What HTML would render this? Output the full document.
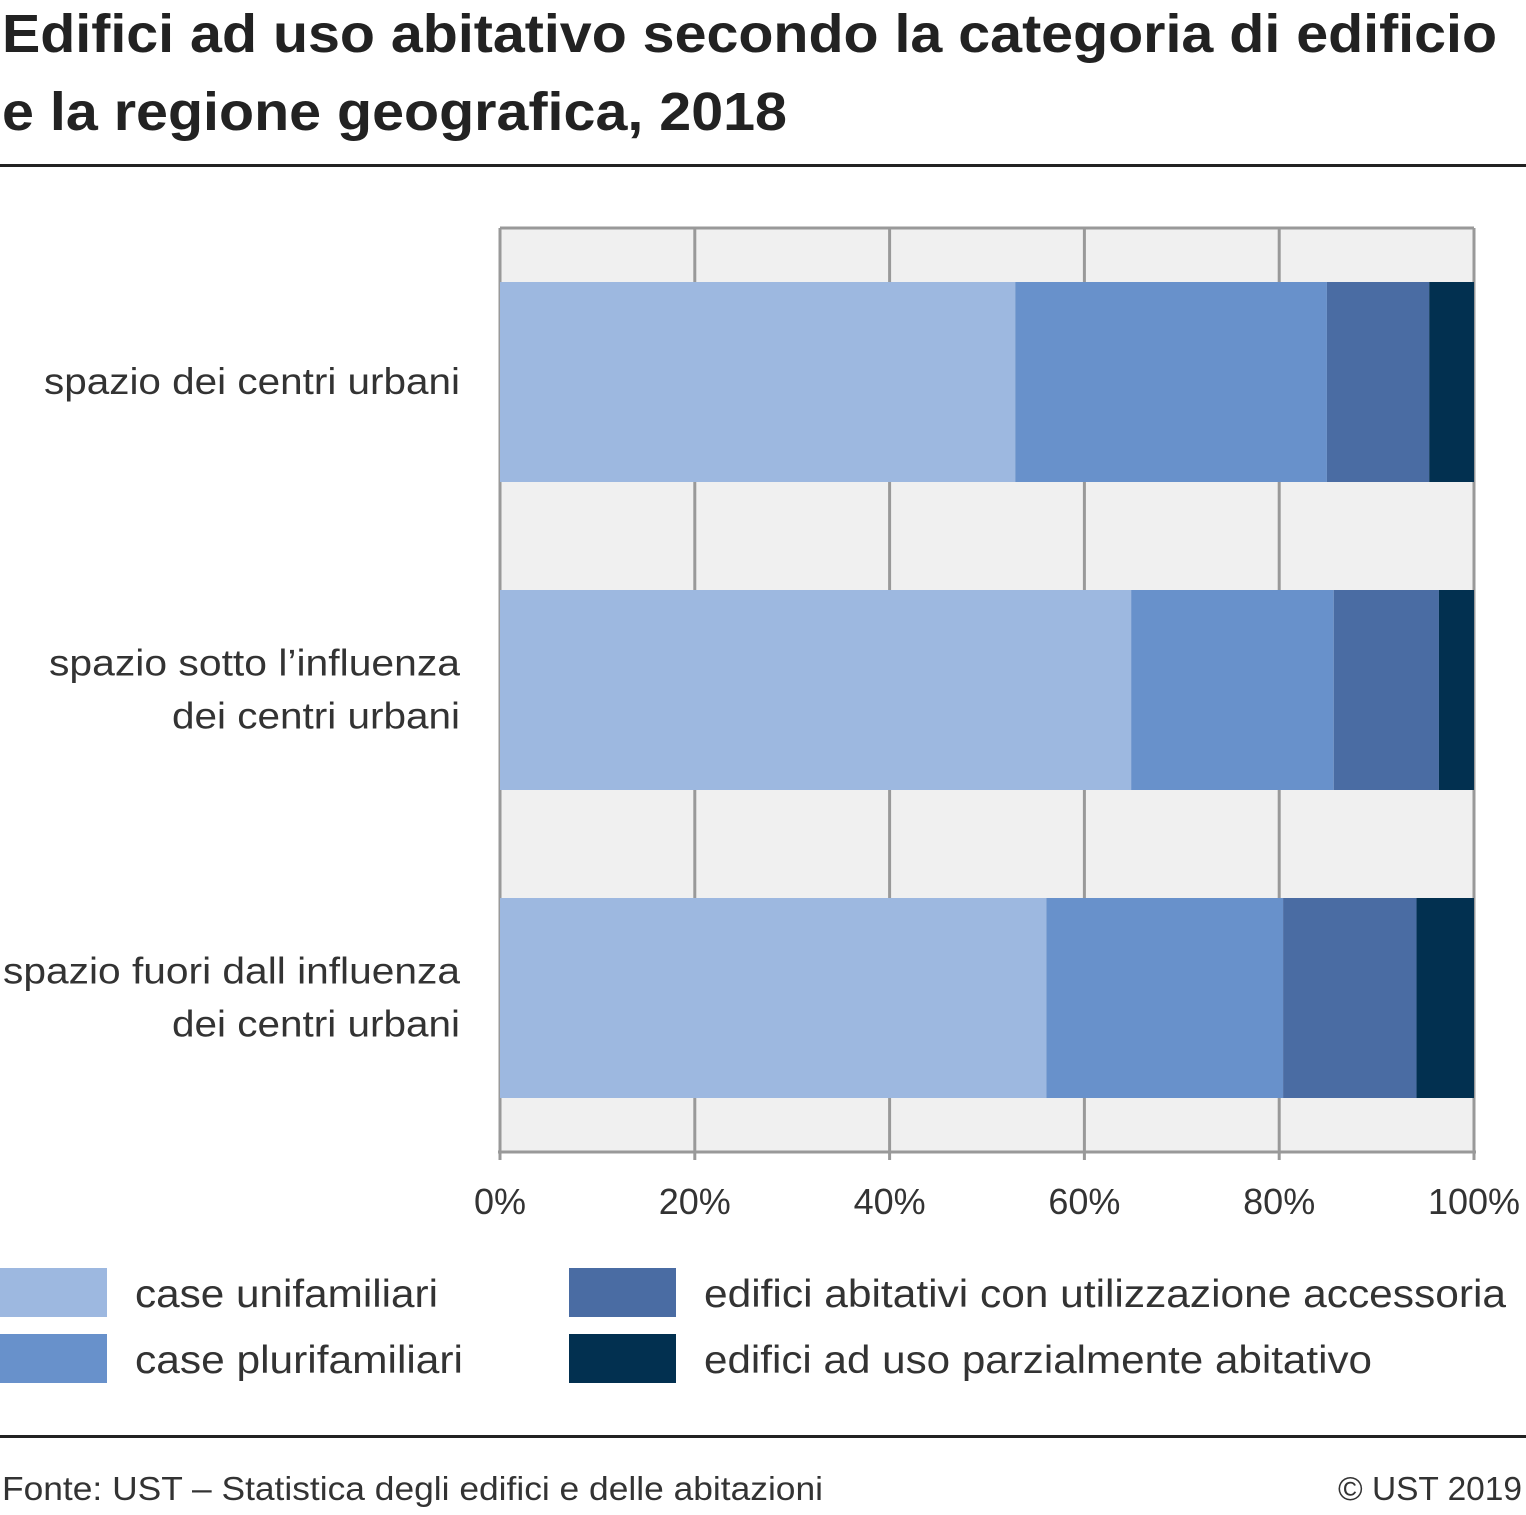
<!DOCTYPE html>
<html><head><meta charset="utf-8"><style>
body{margin:0;width:1526px;height:1510px;background:#fff;font-family:"Liberation Sans",sans-serif;overflow:hidden}
</style></head><body>
<svg width="1526" height="1510" xmlns="http://www.w3.org/2000/svg">
<text x="2" y="52" font-size="54" font-weight="bold" fill="#222" textLength="1495" lengthAdjust="spacingAndGlyphs">Edifici ad uso abitativo secondo la categoria di edificio</text>
<text x="2" y="130" font-size="54" font-weight="bold" fill="#222" textLength="785" lengthAdjust="spacingAndGlyphs">e la regione geografica, 2018</text>
<rect x="0" y="164" width="1526" height="3" fill="#222"/>
<g id="plot"></g>
<g id="legend"></g>
<rect x="0" y="1435" width="1526" height="3" fill="#222"/>
<text x="2" y="1500" font-size="33" fill="#333" textLength="821" lengthAdjust="spacingAndGlyphs">Fonte: UST – Statistica degli edifici e delle abitazioni</text>
<text x="1522" y="1500" font-size="33" fill="#333" text-anchor="end" textLength="184" lengthAdjust="spacingAndGlyphs">© UST 2019</text>
</svg>
<script>
const categories=[["spazio dei centri urbani"],["spazio sotto l’influenza","dei centri urbani"],["spazio fuori dall influenza","dei centri urbani"]];
const seriesNames=["case unifamiliari","case plurifamiliari","edifici abitativi con utilizzazione accessoria","edifici ad uso parzialmente abitativo"];
const unifamiliari=[52.9,64.8,56.1];
const plurifamiliari=[32.0,20.8,24.3];
const accessoria=[10.5,10.8,13.7];
const parziale=[4.6,3.6,5.9];
const ticks=[0,20,40,60,80,100];
const colors=["#9db8e0","#6891cb","#4a6ca3","#023050"];
const series=[unifamiliari,plurifamiliari,accessoria,parziale];
const textW={"spazio dei centri urbani":416,"spazio sotto l’influenza":411,"dei centri urbani":288,"spazio fuori dall influenza":457,"case unifamiliari":303,"case plurifamiliari":328,"edifici abitativi con utilizzazione accessoria":802,"edifici ad uso parzialmente abitativo":668};
const NS="http://www.w3.org/2000/svg";
const X0=500,X1=1474,Y0=228,Y1=1152;
const xs=v=>X0+(X1-X0)*v/100;
const band=(Y1-Y0)/categories.length, barH=200;
const yc=i=>Y0+band*(i+0.5);
function mk(t,a,p){const e=document.createElementNS(NS,t);for(const k in a)e.setAttribute(k,a[k]);(p||plot).appendChild(e);return e;}
const plot=document.getElementById('plot'),legend=document.getElementById('legend');
let bg=mk('rect',{x:X0,y:Y0,width:X1-X0,height:Y1-Y0,fill:'#f0f0f0'});


ticks.forEach(t=>{
 let l=mk('line',{x1:xs(t),x2:xs(t),y1:Y0,y2:Y1+8,stroke:'#999','stroke-width':3});
 
 
 let tx=mk('text',{x:xs(t),y:1214,'font-size':36,fill:'#333','text-anchor':'middle'});
 tx.textContent=t+'%';
 
 
});
let tb=mk('line',{x1:X0,x2:X1,y1:Y0,y2:Y0,stroke:'#999','stroke-width':3});


let bb=mk('line',{x1:X0-2,x2:X1+2,y1:Y1,y2:Y1,stroke:'#999','stroke-width':3});


categories.forEach((c,i)=>{
 const cy=yc(i);let acc=0;
 series.forEach((s,j)=>{
  const r=mk('rect',{x:xs(acc),y:cy-barH/2,width:xs(acc+s[i])-xs(acc),height:barH,fill:colors[j]});
  
  
  acc+=s[i];
 });
 const n=c.length;
 c.forEach((line,k)=>{
  const t=mk('text',{x:460,y:cy+12+(k-(n-1)/2)*53,'font-size':37,fill:'#333','text-anchor':'end',textLength:textW[line],lengthAdjust:'spacingAndGlyphs'});
  t.textContent=line;
  
  
 });
});
const lp=[[0,1268,135],[0,1334,135],[569,1268,704],[569,1334,704]];
seriesNames.forEach((nm,j)=>{
 const p=lp[j];
 const r=mk('rect',{x:p[0],y:p[1],width:107,height:49,fill:colors[j]},legend);
 
 
 const t=mk('text',{x:p[2],y:p[1]+39,'font-size':39,fill:'#333',textLength:textW[nm],lengthAdjust:'spacingAndGlyphs'},legend);
 t.textContent=nm;
 
 
});
</script>
</body></html>
